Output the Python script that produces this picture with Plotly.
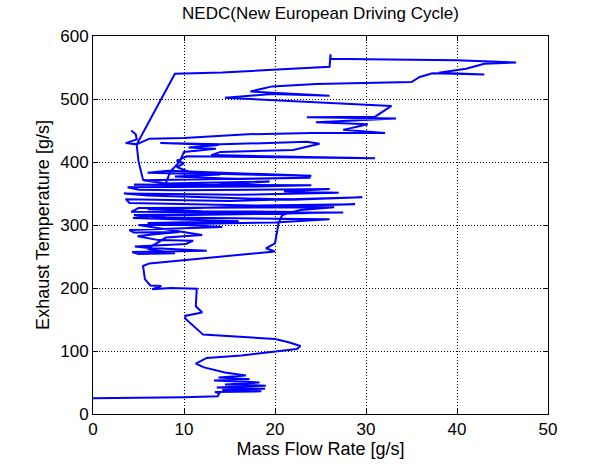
import plotly.graph_objects as go

# Mass flow rate [g/s] (x) and exhaust temperature (y)
mass_flow = [
    0, 4, 7, 10, 13.7, 13.9, 13.4, 18.5, 14.2, 18.9, 13.6, 19, 14.5, 18.3, 13.3, 17.2, 13.8, 16.8, 14.5, 12.2,
    11.3, 12.5, 16.3, 20, 22.4, 22.8, 21.5, 20, 16, 12.1, 10.1, 10.2, 12, 11.3, 11.4, 8.5, 6.5, 7.5, 6.3, 5.7,
    5.5, 6.2, 20, 19, 20, 20.4, 20.8, 22.8,
    26.5, 5.0, 4.2, 24.5, 7, 4.4, 16, 6, 14.2, 4, 4.5, 9.5, 6.5, 4.9, 7.2, 11, 10.2, 4.6, 5.8, 12.5, 4.3, 5, 9, 6,
    8, 12, 5,
    20, 26, 8, 4.5, 27.5, 12, 6, 28.8, 18, 4, 3.6, 15, 29.6, 22, 6, 3.4, 16, 27, 21, 26, 9, 5, 3.8, 18, 24,
    4.5, 13, 19.4, 8, 5.5, 23.9, 16, 9, 14, 6, 8.3,
    24, 11, 9.2, 10, 9.2, 10.3, 31, 13, 14, 22, 24.9, 23.5, 14, 7.4, 13.8, 10.5, 13.5, 10, 9.5, 8.5, 8,
    5.5, 5, 4.8, 6.2, 10, 17, 24, 32.1, 27.5, 30.2, 24.5, 33.3, 23.5, 31, 32.8, 15.9, 14.5, 19.7, 26, 17.3,
    19.7, 24.5, 35, 35.9, 37.3, 43, 38, 41, 43, 46.5, 40, 30, 26.1, 26.1, 26, 14.2, 9, 4.8, 3.6, 4.8, 4.7, 4.2,
]
exhaust_temp = [
    25, 25.5, 26, 26.5, 28, 33, 35, 36, 38, 40, 42, 45, 47, 50, 53, 55, 58, 61, 66, 74,
    80, 89, 93, 99, 103, 108, 114, 119, 123, 126, 152, 156, 161, 171, 199, 200, 198, 203, 204, 214,
    235, 239, 258, 263, 271, 303, 316, 324,
    328, 327, 321, 319, 315, 311, 306, 303, 297, 292, 288, 289, 285, 282, 276, 275, 270, 266, 264, 259, 257, 254, 255, 262,
    280, 284, 300,
    304, 309, 312, 316, 320, 322, 325, 333, 331, 335, 341, 338, 344, 340, 347, 350, 348, 351, 353, 357, 355, 356, 360, 361, 363,
    364, 363, 369, 366, 371, 375, 373, 377, 380, 383, 386,
    378, 382, 392, 398, 402, 409, 406, 411, 416, 419, 429, 432, 428, 430, 427, 423, 421, 416, 400, 385, 366,
    372, 401, 428, 437, 438, 444, 446, 446, 451, 460, 463, 469, 471, 472, 489, 500, 502, 508, 505, 512,
    520, 524, 527, 535, 541, 539, 541.5, 548, 556, 558, 561.5, 563, 564, 571, 551, 542, 540, 428, 430, 436, 444, 450,
]

x_ticks = [0, 10, 20, 30, 40, 50]
y_ticks = [0, 100, 200, 300, 400, 500, 600]

FONT = "Liberation Sans, Arial, sans-serif"

fig = go.Figure()
fig.add_trace(go.Scatter(x=mass_flow, y=exhaust_temp, mode="lines",
                         line=dict(color="#0000FF", width=2), showlegend=False))

axis_common = dict(
    showline=True, linecolor="black", linewidth=1, mirror="allticks",
    ticks="inside", ticklen=5, tickcolor="black", tickwidth=1,
    showgrid=True, gridcolor="black", griddash="1px,2px", gridwidth=1,
    zeroline=False, tickfont=dict(family=FONT, size=17, color="black"),
)

fig.update_xaxes(range=[0, 50], tickvals=x_ticks, ticktext=[str(v) for v in x_ticks],
                 title=dict(text="Mass Flow Rate [g/s]", font=dict(family=FONT, size=18, color="black"), standoff=2),
                 **axis_common)
fig.update_yaxes(range=[0, 600], tickvals=y_ticks, ticktext=[str(v) for v in y_ticks],
                 title=dict(text="Exhaust Temperature [g/s]", font=dict(family=FONT, size=18, color="black"), standoff=5),
                 **axis_common)

fig.update_layout(
    width=599, height=469,
    margin=dict(l=93, r=51, t=36, b=55, pad=0),
    paper_bgcolor="white", plot_bgcolor="white",
    title=dict(text="NEDC(New European Driving Cycle)", x=0.5, xref="paper", xanchor="center",
               y=1 - 13 / 469, yref="container", yanchor="middle",
               font=dict(family=FONT, size=17, color="black")),
)

fig.write_html("out.html")
